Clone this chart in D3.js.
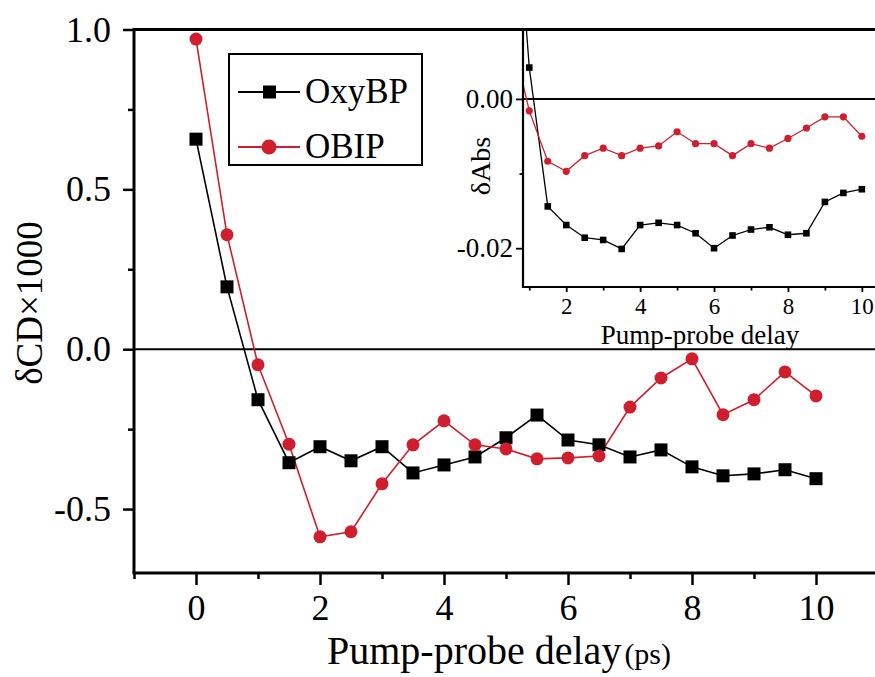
<!DOCTYPE html>
<html>
<head>
<meta charset="utf-8">
<script src="https://cdn.jsdelivr.net/npm/d3@7"></script>
<style>
  body { margin: 0; background: #fff; }
</style>
</head>
<body>
<svg id="chart"></svg>
<script>
// delay vs dCD (main) and dAbs (inset)
const delays = [0, 0.5, 1, 1.5, 2, 2.5, 3, 3.5, 4, 4.5, 5, 5.5, 6, 6.5, 7, 7.5, 8, 8.5, 9, 9.5, 10];
const oxyCD  = [0.657, 0.195, -0.158, -0.355, -0.305, -0.349, -0.305, -0.387, -0.362, -0.337, -0.277,
                -0.206, -0.284, -0.299, -0.337, -0.315, -0.368, -0.396, -0.39, -0.377, -0.405];
const obipCD = [0.97, 0.358, -0.049, -0.297, -0.587, -0.571, -0.421, -0.299, -0.224, -0.299, -0.312,
                -0.343, -0.34, -0.334, -0.181, -0.09, -0.03, -0.205, -0.158, -0.071, -0.146];

// inset, starts at 0.5 (that point is off the top of the inset)
const insetDelays = [0.5, 1, 1.5, 2, 2.5, 3, 3.5, 4, 4.5, 5, 5.5, 6, 6.5, 7, 7.5, 8, 8.5, 9, 9.5, 10];
const oxyAbs  = [0.037, 0.0042, -0.0144, -0.0169, -0.0186, -0.0189, -0.0201, -0.0169, -0.0166, -0.0169,
                 -0.018, -0.02, -0.0183, -0.0175, -0.0172, -0.0182, -0.018, -0.0138, -0.0126, -0.0121];
const obipAbs = [0.0089, -0.0016, -0.00835, -0.0097, -0.0076, -0.0066, -0.0076, -0.0066, -0.0063, -0.0044,
                 -0.006, -0.006, -0.0076, -0.006, -0.0066, -0.0053, -0.0039, -0.0024, -0.0024, -0.005];

const seriesNames = ["OxyBP", "OBIP"];
const xMajor = [0, 2, 4, 6, 8, 10];
const xMinor = [-1, 1, 3, 5, 7, 9];
const yMajor = [-0.5, 0, 0.5, 1.0];
const yMinor = [-0.25, 0.25, 0.75];
const insetXMajor = [2, 4, 6, 8, 10];
const insetXMinor = [1, 3, 5, 7, 9];
const insetYMajor = [-0.02, 0];
const insetYMinor = [-0.01];

const width = 875, height = 677;
const red = "#cf1f2e";
const serif = "'Liberation Serif', 'Times New Roman', Times, serif";

const svg = d3.select("#chart").attr("width", width).attr("height", height)
  .style("font-family", serif);

// main scales
const x = d3.scaleLinear().domain([-1, 11]).range([134, 878]);
const y = d3.scaleLinear().domain([-0.7, 1.0]).range([573, 29.5]);

svg.append("clipPath").attr("id", "mainClip")
  .append("rect").attr("x", 134).attr("y", 29.5).attr("width", 744).attr("height", 543.5);

const plot = svg.append("g").attr("clip-path", "url(#mainClip)");

plot.append("line")
  .attr("x1", x(-1)).attr("x2", x(11))
  .attr("y1", y(0)).attr("y2", y(0))
  .attr("stroke", "#000").attr("stroke-width", 2);

const line = d3.line().x(d => x(d[0])).y(d => y(d[1]));
const oxyPts = delays.map((d, i) => [d, oxyCD[i]]);
const obipPts = delays.map((d, i) => [d, obipCD[i]]);

plot.append("path").datum(oxyPts).attr("d", line)
  .attr("fill", "none").attr("stroke", "#000").attr("stroke-width", 1.6);
plot.append("path").datum(obipPts).attr("d", line)
  .attr("fill", "none").attr("stroke", red).attr("stroke-width", 1.6);

plot.selectAll(".sq").data(oxyPts).join("rect")
  .attr("x", d => x(d[0]) - 6.5).attr("y", d => y(d[1]) - 6.5)
  .attr("width", 13).attr("height", 13).attr("fill", "#000");
plot.selectAll(".ci").data(obipPts).join("circle")
  .attr("cx", d => x(d[0])).attr("cy", d => y(d[1]))
  .attr("r", 6.5).attr("fill", red);

// axes
function styleAxis(g) {
  g.attr("font-family", null);
  g.select(".domain").remove();
  g.selectAll(".tick line").attr("stroke", "#000").attr("stroke-width", 2.5);
  g.selectAll("text").style("font-family", serif).attr("fill", "#000");
}

svg.append("g").attr("transform", `translate(0,${y(-0.7)})`)
  .call(d3.axisBottom(x).tickValues(xMajor).tickSize(12).tickPadding(9).tickFormat(d3.format("d")))
  .call(styleAxis)
  .call(g => g.selectAll("text").style("font-size", "36px"));
svg.append("g").attr("transform", `translate(0,${y(-0.7)})`)
  .call(d3.axisBottom(x).tickValues(xMinor).tickSize(6).tickFormat(""))
  .call(styleAxis);

svg.append("g").attr("transform", `translate(${x(-1)},0)`)
  .call(d3.axisLeft(y).tickValues(yMajor).tickSize(11).tickPadding(12)
    .tickFormat(d => d3.format(".1f")(d).replace("−", "-")))
  .call(styleAxis)
  .call(g => g.selectAll("text").style("font-size", "36px"));
svg.append("g").attr("transform", `translate(${x(-1)},0)`)
  .call(d3.axisLeft(y).tickValues(yMinor).tickSize(6).tickFormat(""))
  .call(styleAxis);

// frame: left, bottom
svg.append("line").attr("x1", x(-1)).attr("x2", x(-1)).attr("y1", y(1.0)).attr("y2", y(-0.7))
  .attr("stroke", "#000").attr("stroke-width", 3);
svg.append("line").attr("x1", x(-1) - 1.5).attr("x2", x(11)).attr("y1", y(-0.7)).attr("y2", y(-0.7))
  .attr("stroke", "#000").attr("stroke-width", 3);

svg.append("text")
  .attr("transform", `translate(42,303) rotate(-90)`)
  .attr("text-anchor", "middle").style("font-size", "37px")
  .text("δCD×1000");

const xLabel = svg.append("text").attr("x", 327).attr("y", 664);
xLabel.append("tspan").style("font-size", "40px").text("Pump-probe delay");
xLabel.append("tspan").attr("dx", 3).style("font-size", "30px").text("(ps)");

// legend
const legend = svg.append("g");
legend.append("rect").attr("x", 229).attr("y", 54).attr("width", 193).attr("height", 111)
  .attr("fill", "#fff").attr("stroke", "#000").attr("stroke-width", 2);
const legendRows = [
  { name: seriesNames[0], color: "#000", shape: "square", y: 92 },
  { name: seriesNames[1], color: red, shape: "circle", y: 147 }
];
legendRows.forEach(r => {
  legend.append("line").attr("x1", 238).attr("x2", 300).attr("y1", r.y).attr("y2", r.y)
    .attr("stroke", r.color).attr("stroke-width", 1.8);
  if (r.shape === "square") {
    legend.append("rect").attr("x", 263).attr("y", r.y - 6.5).attr("width", 13).attr("height", 13)
      .attr("fill", r.color);
  } else {
    legend.append("circle").attr("cx", 269).attr("cy", r.y).attr("r", 7.5).attr("fill", r.color);
  }
  legend.append("text").attr("x", 305).attr("y", r.y + 11).style("font-size", "35px").text(r.name);
});

// inset
const ix = d3.scaleLinear().domain([0.83, 11]).range([523, 898.8]);
const iy = d3.scaleLinear().domain([-0.0252, 0.0093]).range([287, 29.5]);

svg.append("rect").attr("x", 523).attr("y", 29.5).attr("width", 360).attr("height", 257.5)
  .attr("fill", "#fff");

svg.append("clipPath").attr("id", "insetClip")
  .append("rect").attr("x", 523).attr("y", 29.5).attr("width", 380).attr("height", 257.5);
const inset = svg.append("g").attr("clip-path", "url(#insetClip)");

inset.append("line").attr("x1", 523).attr("x2", 900).attr("y1", iy(0)).attr("y2", iy(0))
  .attr("stroke", "#000").attr("stroke-width", 2);

const iline = d3.line().x(d => ix(d[0])).y(d => iy(d[1]));
const oxyIn = insetDelays.map((d, i) => [d, oxyAbs[i]]);
const obipIn = insetDelays.map((d, i) => [d, obipAbs[i]]);

inset.append("path").datum(oxyIn).attr("d", iline)
  .attr("fill", "none").attr("stroke", "#000").attr("stroke-width", 1.3);
inset.append("path").datum(obipIn).attr("d", iline)
  .attr("fill", "none").attr("stroke", red).attr("stroke-width", 1.3);
inset.selectAll(".isq").data(oxyIn).join("rect")
  .attr("x", d => ix(d[0]) - 3.3).attr("y", d => iy(d[1]) - 3.3)
  .attr("width", 6.6).attr("height", 6.6).attr("fill", "#000");
inset.selectAll(".ici").data(obipIn).join("circle")
  .attr("cx", d => ix(d[0])).attr("cy", d => iy(d[1]))
  .attr("r", 3.6).attr("fill", red);

function styleInset(g, size) {
  g.attr("font-family", null);
  g.select(".domain").remove();
  g.selectAll(".tick line").attr("stroke", "#000").attr("stroke-width", 1.8);
  g.selectAll("text").style("font-family", serif).style("font-size", size + "px").attr("fill", "#000");
}

svg.append("g").attr("transform", `translate(0,287)`)
  .call(d3.axisBottom(ix).tickValues(insetXMajor).tickSize(5).tickPadding(6).tickFormat(d3.format("d")))
  .call(styleInset, 23);
svg.append("g").attr("transform", `translate(0,287)`)
  .call(d3.axisBottom(ix).tickValues(insetXMinor).tickSize(3.5).tickFormat(""))
  .call(styleInset, 23);

svg.append("g").attr("transform", `translate(523,0)`)
  .call(d3.axisLeft(iy).tickValues(insetYMajor).tickSize(7).tickPadding(3)
    .tickFormat(d => d3.format(".2f")(d).replace("−", "-")))
  .call(styleInset, 27);
svg.append("g").attr("transform", `translate(523,0)`)
  .call(d3.axisLeft(iy).tickValues(insetYMinor).tickSize(3.5).tickFormat(""))
  .call(styleInset, 27);

svg.append("line").attr("x1", 523).attr("x2", 523).attr("y1", 29.5).attr("y2", 288)
  .attr("stroke", "#000").attr("stroke-width", 2.2);
svg.append("line").attr("x1", 522).attr("x2", 900).attr("y1", 287).attr("y2", 287)
  .attr("stroke", "#000").attr("stroke-width", 2.2);

svg.append("text")
  .attr("transform", `translate(490,166) rotate(-90)`)
  .attr("text-anchor", "middle").style("font-size", "28px")
  .text("δAbs");
svg.append("text").attr("x", 700).attr("y", 344).attr("text-anchor", "middle")
  .style("font-size", "27px").text("Pump-probe delay");

// top border of the main frame (shared with the inset)
svg.append("line").attr("x1", x(-1) - 1.5).attr("x2", x(11)).attr("y1", 29.5).attr("y2", 29.5)
  .attr("stroke", "#000").attr("stroke-width", 3);
</script>
</body>
</html>
